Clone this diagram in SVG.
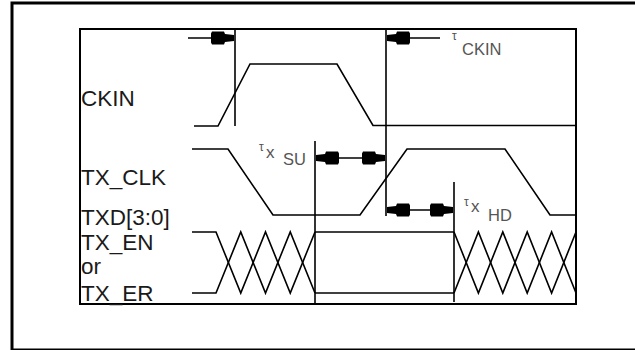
<svg xmlns="http://www.w3.org/2000/svg" width="635" height="350" viewBox="0 0 635 350">
<defs>
<style>
.frame{fill:none;stroke:#000;stroke-width:3}
.box{fill:none;stroke:#000;stroke-width:2}
.wave{fill:none;stroke:#000;stroke-width:1.6;stroke-linejoin:miter}
.ref{fill:none;stroke:#000;stroke-width:1.6}
.dim{fill:none;stroke:#000;stroke-width:1.4}
.lbl{font-family:"Liberation Sans",Arial,sans-serif;font-size:22.5px;fill:#1a1a1a}
.sym{font-family:"Liberation Sans",Arial,sans-serif;fill:#555}
</style>
<marker id="ah" viewBox="-24 -8 25 16" refX="0" refY="0" markerWidth="25" markerHeight="16" markerUnits="userSpaceOnUse" orient="auto-start-reverse">
<path d="M0,-3 L-9,-4 L-10,-6.5 L-22,-6.5 L-23,-4.5 L-23,4.5 L-22,6.5 L-10,6.5 L-9,4 L0,3 Z" fill="#000"/>
</marker>
</defs>
<rect class="frame" x="12" y="3" width="640" height="347"/>
<rect class="box" x="80" y="29" width="496" height="275"/>

<g id="labels">
<text class="lbl" x="81" y="106">CKIN</text>
<text class="lbl" x="81" y="185">TX_CLK</text>
<text class="lbl" x="81" y="225">TXD[3:0]</text>
<text class="lbl" x="81" y="250">TX_EN</text>
<text class="lbl" x="81" y="274">or</text>
<text class="lbl" x="81" y="301">TX_ER</text>
</g>

<g id="ckin">
<polyline class="wave" points="194,126 218,126 250,64 337,64 373,125.5 576,125.5"/>
</g>
<g id="tx_clk">
<polyline class="wave" points="192,149 228,149 273,215 360,215 407,149 505,149 550,215 576,215"/>
</g>
<g id="txd">
<polyline class="wave" points="192,232 216,232 240.75,293 265.5,232 290.25,293 315,232"/>
<polyline class="wave" points="192,293 216,293 240.75,232 265.5,293 290.25,232 315,293"/>
<polyline class="wave" points="315,232 454,232"/>
<polyline class="wave" points="315,293 454,293"/>
<polyline class="wave" points="454,232 478.4,293 502.8,232 527.2,293 551.6,232 576,293"/>
<polyline class="wave" points="454,293 478.4,232 502.8,293 527.2,232 551.6,293 576,232"/>
</g>

<g id="connectors">
<line class="ref" x1="235" y1="29" x2="235" y2="126"/>
<line class="ref" x1="386" y1="29" x2="386" y2="216"/>
<line class="ref" x1="315" y1="141" x2="315" y2="304"/>
<line class="ref" x1="454" y1="182" x2="454" y2="302"/>
<line class="dim" x1="188" y1="38" x2="234" y2="38" marker-end="url(#ah)"/>
<line class="dim" x1="440" y1="38" x2="387" y2="38" marker-end="url(#ah)"/>
<line class="dim" x1="316" y1="158" x2="385" y2="158" marker-start="url(#ah)" marker-end="url(#ah)"/>
<line class="dim" x1="387" y1="210" x2="453" y2="210" marker-start="url(#ah)" marker-end="url(#ah)"/>
</g>

<g id="timing-labels">
<text class="sym" x="452" y="40" font-size="12">τ</text>
<text class="sym" x="462" y="55" font-size="16.5">CKIN</text>
<text class="sym" x="259" y="151" font-size="12">τ</text>
<text class="sym" x="266" y="158" font-size="17">x</text>
<text class="sym" x="283" y="165" font-size="16.5">SU</text>
<text class="sym" x="464" y="206" font-size="12">τ</text>
<text class="sym" x="471" y="212" font-size="17">x</text>
<text class="sym" x="488" y="221" font-size="16.5">HD</text>
</g>
</svg>
